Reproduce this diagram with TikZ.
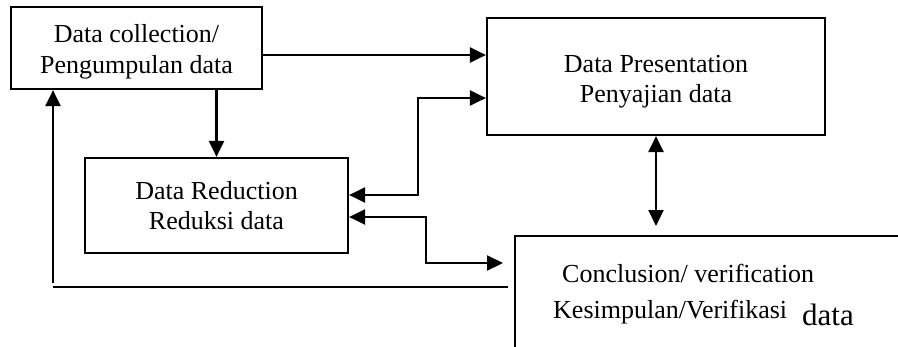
\documentclass[tikz,border=0pt]{standalone}
\usepackage{fontspec}
\setmainfont{Liberation Serif}
\usetikzlibrary{arrows.meta}

\tikzset{
  stage/.style={draw, line width=2.2pt, inner sep=0pt, align=center,
    font=\fontsize{26}{30.5}\selectfont},
  conctext/.style={anchor=base west, inner sep=0pt,
    font=\fontsize{26}{30.5}\selectfont},
  flow/.style={line width=2.2pt, -{Triangle[length=16pt,width=15pt]}},
  flowtwo/.style={line width=2.2pt,
    {Triangle[length=16pt,width=15pt]}-{Triangle[length=16pt,width=15pt]}},
}

\begin{document}
\begin{tikzpicture}[x=1pt,y=-1pt]
\useasboundingbox (0,0) rectangle (898,346);

\node[stage, minimum width=251pt, minimum height=82pt, text height=56pt] (collect)
  at (136.5,48) {Data collection/\\Pengumpulan data};
\node[stage, minimum width=338pt, minimum height=117pt, text height=58pt] (present)
  at (656,76.5) {Data Presentation\\Penyajian data};
\node[stage, minimum width=263pt, minimum height=95pt] (reduce)
  at (216.5,205.5) {Data Reduction\\Reduksi data};
% the conclusion box runs off the page
\node[draw, line width=2.2pt, inner sep=0pt, minimum width=420pt,
  minimum height=140pt, anchor=north west] (conclude) at (514,235) {};
\node[conctext] (conc1) at (562,282) {Conclusion/ verification};
\node[conctext] (conc2) at (553,318) {Kesimpulan/Verifikasi};
\node[conctext, font=\fontsize{31}{36}\selectfont] (conc3) at (802,325) {data};

% collection -> presentation, collection -> reduction
\draw[flow] ([yshift=-7pt]collect.east) -- ([yshift=-7pt]collect.east -| present.west);
\draw[flow] (reduce.north |- collect.south) -- (reduce.north);

% presentation <-> reduction
\coordinate (bendA) at (418,98);
\coordinate (bendB) at (418,195);
\draw[flowtwo] (present.west |- bendA) -- (bendA) -- (bendB) -- (reduce.east |- bendB);

% reduction <-> conclusion
\coordinate (bendC) at (426,217);
\coordinate (bendD) at (426,263);
\coordinate (concin) at (503,263);
\draw[flowtwo] (reduce.east |- bendC) -- (bendC) -- (bendD) -- (concin);

% presentation <-> conclusion
\draw[flowtwo] (present.south) -- ([yshift=9pt]conclude.north -| present.south);

% back to collection
\coordinate (backR) at (508,287);
\coordinate (backL) at (53,287);
\coordinate (backU) at (53,283);
\draw[line width=2.2pt] (backR) -- (backL);
\draw[flow] (backU) -- (backU |- collect.south);

\end{tikzpicture}
\end{document}
